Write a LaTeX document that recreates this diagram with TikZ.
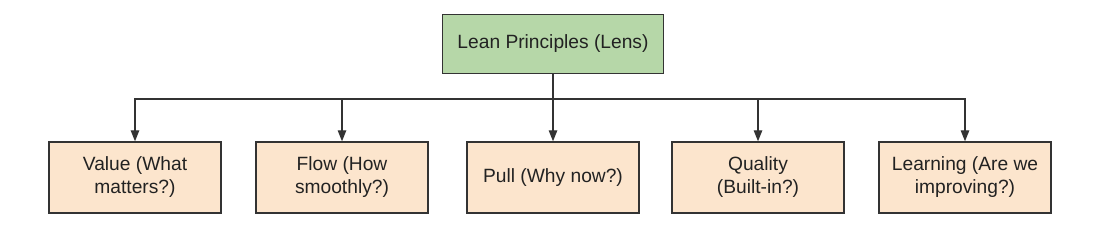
\documentclass[tikz,border=0pt]{standalone}
\usepackage{fontspec}
\setmainfont{Liberation Sans}
\usetikzlibrary{arrows.meta}
\definecolor{topfill}{HTML}{B6D7A8}
\definecolor{leaffill}{HTML}{FCE5CD}
\definecolor{edge}{HTML}{333333}
\definecolor{txt}{HTML}{222222}
\begin{document}
\begin{tikzpicture}[x=1pt,y=-1pt,
  rootbox/.style={draw=edge, line width=1.4pt, fill=topfill, minimum width=221pt, minimum height=59pt, inner sep=0pt, text=txt, font=\fontsize{19.2}{23}\selectfont, align=center},
  leafbox/.style={draw=edge, line width=1.4pt, fill=leaffill, minimum width=172pt, minimum height=71pt, inner sep=0pt, text=txt, font=\fontsize{19.2}{23}\selectfont, align=center},
  conn/.style={draw=edge, line width=1.3pt},
  arr/.style={conn, -{Triangle[length=11pt,width=8.5pt]}}]
\useasboundingbox (0,0) rectangle (1100,228);
\node[rootbox] (root) at (553,44) {Lean Principles (Lens)};
\node[leafbox] (value) at (135,177.5) {Value (What\\matters?)};
\node[leafbox] (flow) at (342,177.5) {Flow (How\\smoothly?)};
\node[leafbox] (pull) at (553,177.5) {Pull (Why now?)};
\node[leafbox] (quality) at (758,177.5) {Quality\\(Built-in?)};
\node[leafbox] (learn) at (965,177.5) {Learning (Are we\\improving?)};
\coordinate (bus) at (553,99);
\draw[conn] (root.south) -- (bus);
\draw[arr] (bus) -| (value.north);
\draw[arr] (bus) -| (flow.north);
\draw[arr] (bus) -- (pull.north);
\draw[arr] (bus) -| (quality.north);
\draw[arr] (bus) -| (learn.north);
\end{tikzpicture}
\end{document}
